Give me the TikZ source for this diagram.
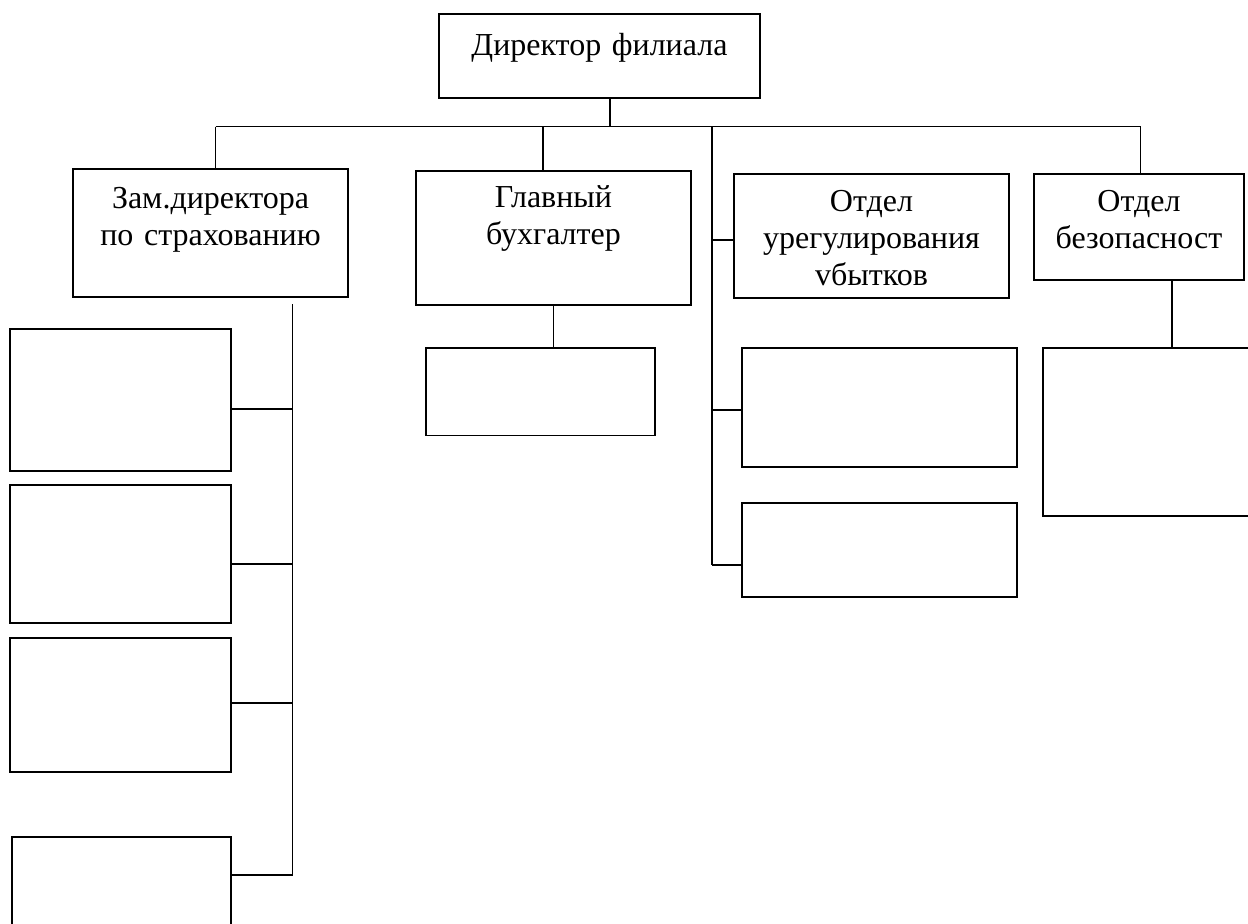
\documentclass[tikz,border=0pt]{standalone}
\usepackage{fontspec}
\setmainfont{Liberation Serif}
\usetikzlibrary{calc}

\begin{document}
\begin{tikzpicture}[x=0.5pt, y=-0.5pt, line width=0.75pt,
    unit/.style={draw, rectangle, inner sep=0pt},
    lbl/.style={align=center, text width=150pt, inner sep=0pt, anchor=base,
        font=\fontsize{16}{18.5}\selectfont}]
    \useasboundingbox (0,0) rectangle (1248,923);
    \clip (0,0) rectangle (1248,923);
    % top level
    \node[unit, minimum width=160.5pt, minimum height=42pt] (dir) at (599.5, 56) {};
    \node[lbl] (dirt) at ([yshift=-21pt]dir.north) {Директор филиала};
    \node[unit, minimum width=137.5pt, minimum height=64pt] (zam) at (210.5, 233) {};
    \node[lbl] (zamt) at ([yshift=-20.35pt]zam.north) {Зам.директора\\по страхованию};
    \node[unit, minimum width=137.5pt, minimum height=67pt] (glav) at (553.5, 238) {};
    \node[lbl] (glavt) at ([yshift=-18.85pt]glav.north) {Главный\\бухгалтер};
    \node[unit, minimum width=137.5pt, minimum height=62pt] (ureg) at (871.5, 236) {};
    \node[lbl] (uregt) at ([yshift=-19.15pt]ureg.north) {Отдел\\урегулирования\\vбытков};
    \node[unit, minimum width=105pt, minimum height=53pt] (bez) at (1139, 227) {};
    \node[lbl] (bezt) at ([yshift=-19.25pt]bez.north) {Отдел\\безопасност};
    % empty units
    \node[unit, minimum width=110.5pt, minimum height=71pt] (za) at (120.5, 400) {};
    \node[unit, minimum width=110.5pt, minimum height=69pt] (zb) at (120.5, 554) {};
    \node[unit, minimum width=110.5pt, minimum height=67pt] (zc) at (120.5, 705) {};
    \node[unit, minimum width=109.5pt, minimum height=66.5pt] (zd) at (121.5, 903.5) {};
    \node[unit, minimum width=114.5pt, minimum height=43.75pt] (gch) at (540.5, 391.75) {};
    \node[unit, minimum width=137.5pt, minimum height=59.5pt] (ua) at (879.5, 407.5) {};
    \node[unit, minimum width=137.5pt, minimum height=47pt] (ub) at (879.5, 550) {};
    \node[unit, minimum width=123.5pt, minimum height=84pt] (bch) at (1166.5, 432) {};
    % bus
    \coordinate (bd) at (610, 126.5);
    \coordinate (bz) at (215.5, 126.5);
    \coordinate (bg) at (543, 126.5);
    \coordinate (bt) at (712, 126.5);
    \coordinate (bb) at (1140.5, 126.5);
    \draw (dir.south -| bd) -- (bd);
    \draw (bz) -- (bb);
    \draw (bz) -- (bz |- zam.north);
    \draw (bg) -- (bg |- glav.north);
    \draw (bb) -- (bb |- bez.north);
    % right trunk
    \coordinate (tr) at (712, 240);
    \coordinate (ta) at (712, 410);
    \coordinate (tb) at (712, 565);
    \draw (bt) -- (tb);
    \draw (tr) -- (tr -| ureg.west);
    \draw (ta) -- (ta -| ua.west);
    \draw (tb) -- (tb -| ub.west);
    % left trunk
    \coordinate (zt) at (292.5, 304);
    \coordinate (z1) at (292.5, 409);
    \coordinate (z2) at (292.5, 564);
    \coordinate (z3) at (292.5, 703);
    \coordinate (z4) at (292.5, 875);
    \draw (zt) -- (z4);
    \draw (z1) -- (z1 -| za.east);
    \draw (z2) -- (z2 -| zb.east);
    \draw (z3) -- (z3 -| zc.east);
    \draw (z4) -- (z4 -| zd.east);
    % stems
    \draw (glav.south) -- (glav.south |- gch.north);
    \coordinate (bs) at (1172, 0);
    \draw (bez.south -| bs) -- (bch.north -| bs);
\end{tikzpicture}
\end{document}
